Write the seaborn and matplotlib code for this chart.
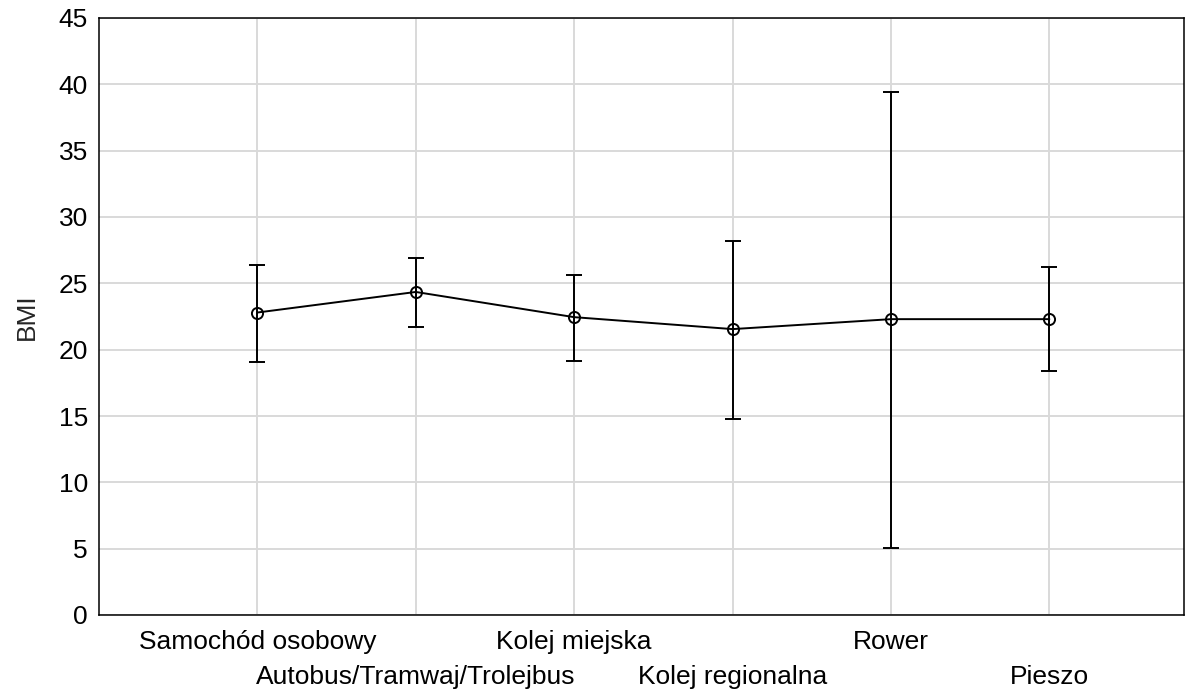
import matplotlib
matplotlib.use("Agg")
import matplotlib.pyplot as plt
import seaborn as sns
import numpy as np
import pandas as pd

categories = ["Samochód osobowy", "Autobus/Tramwaj/Trolejbus", "Kolej miejska",
              "Kolej regionalna", "Rower", "Pieszo"]
means = [22.8, 24.35, 22.45, 21.55, 22.3, 22.3]
upper = [26.4, 26.9, 25.6, 28.2, 39.45, 26.2]
lower = [19.1, 21.7, 19.15, 14.75, 5.05, 18.4]
yticks = [0, 5, 10, 15, 20, 25, 30, 35, 40, 45]

sns.set_style("white")
plt.rcParams['font.family'] = ['Liberation Sans', 'DejaVu Sans']

fig = plt.figure(figsize=(11.97, 6.91), dpi=100)
ax = fig.add_axes([99/1197, 76/691, (1184-99)/1197, (615-18)/691])

pos = np.arange(len(categories))
df = pd.DataFrame({"pos": pos, "mean": means})

m = np.array(means)
yerr = np.vstack([m - np.array(lower), np.array(upper) - m])
ax.errorbar(pos, means, yerr=yerr, fmt="none", ecolor="black",
            elinewidth=1.4, capsize=5.8, capthick=1.4, zorder=3)

sns.lineplot(data=df, x="pos", y="mean", ax=ax, color="black", linewidth=1.4,
             marker="o", markersize=8, markerfacecolor="none",
             markeredgecolor="black", markeredgewidth=1.4, zorder=4)

ax.set_xlim(-1.0, 5.85)
ax.set_ylim(0, 45)
ax.set_yticks(yticks)
ax.set_yticklabels([str(v) for v in yticks])

even = pos[0::2]
odd = pos[1::2]
ax.set_xticks(even)
ax.set_xticklabels([categories[i] for i in even])
ax.set_xticks(odd, minor=True)
ax.set_xticklabels([categories[i] for i in odd], minor=True)
ax.set_xlabel("")
ax.set_ylabel("BMI", fontsize=19, labelpad=14)

ax.grid(True, which="major", color="#d9d9d9", linewidth=1.4, zorder=0)
ax.grid(True, which="minor", axis="x", color="#d9d9d9", linewidth=1.4, zorder=0)
ax.set_axisbelow(True)

ax.tick_params(axis="both", which="both", direction="in", length=5, width=1.1,
               color="black", labelsize=19, labelcolor="black")
ax.tick_params(axis="x", which="major", pad=11)
ax.tick_params(axis="x", which="minor", pad=36)
ax.tick_params(axis="y", pad=8)
for s in ax.spines.values():
    s.set_visible(True)
    s.set_color("black")
    s.set_linewidth(1.1)

fig.savefig("out.png", dpi=100)
